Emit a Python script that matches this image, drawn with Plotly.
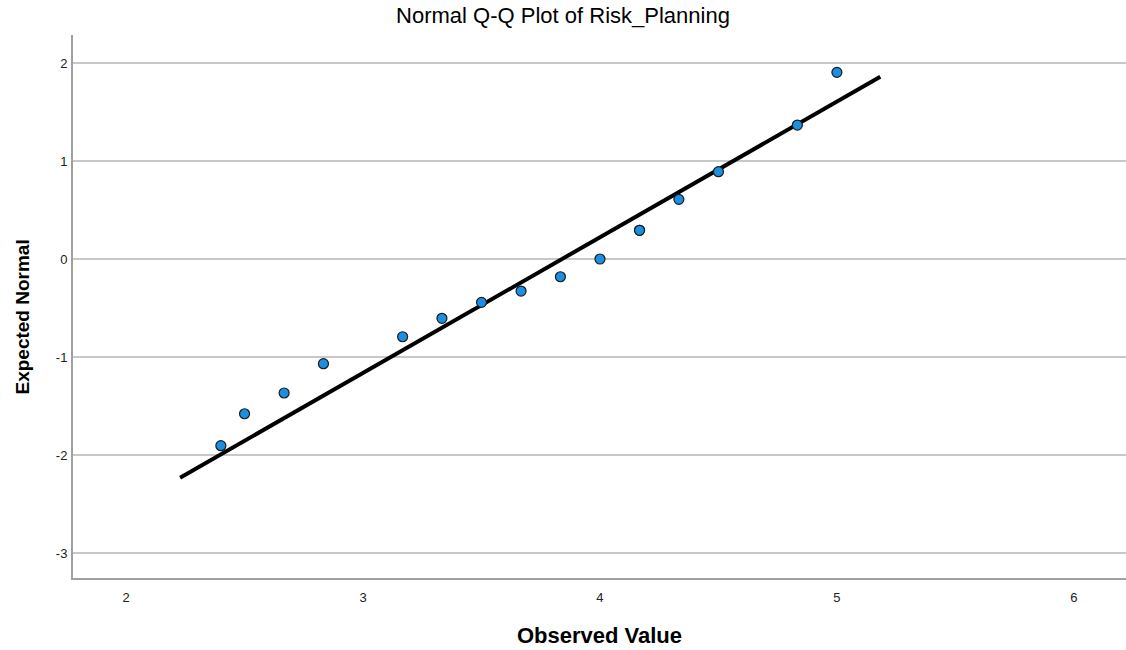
import plotly.graph_objects as go

# Observed values and expected normal scores
observed = [2.40, 2.50, 2.667, 2.833, 3.167, 3.333, 3.50, 3.667, 3.833, 4.00, 4.167, 4.167, 4.333, 4.50, 4.833, 5.00]
expected = [-1.905, -1.579, -1.367, -1.068, -0.793, -0.605, -0.442, -0.327, -0.181, 0.0, 0.293, 0.293, 0.609, 0.891, 1.367, 1.905]

# Reference line end points
line_x = [2.228, 5.183]
line_y = [-2.232, 1.860]

x_ticks = [2, 3, 4, 5, 6]
y_ticks = [-3, -2, -1, 0, 1, 2]

FONT = "Liberation Sans, Arial, sans-serif"

fig = go.Figure()
fig.add_trace(go.Scatter(
    x=line_x, y=line_y, mode="lines",
    line=dict(color="black", width=4),
    hoverinfo="skip", showlegend=False,
))
fig.add_trace(go.Scatter(
    x=observed, y=expected, mode="markers",
    marker=dict(size=10, color="#1a8fe3", line=dict(color="#1a1a1a", width=1.2)),
    showlegend=False,
))

fig.update_layout(
    width=1126, height=650,
    margin=dict(l=73, r=0, t=35, b=72),
    paper_bgcolor="white", plot_bgcolor="white",
    font=dict(family=FONT, color="#222222"),
    title=dict(text="Normal Q-Q Plot of Risk_Planning", x=0.5, xanchor="center",
               y=1 - 15 / 650, yanchor="middle",
               font=dict(family=FONT, size=22, color="black")),
    xaxis=dict(
        range=[1.776, 6.22], tickvals=x_ticks, ticktext=[str(v) for v in x_ticks],
        showgrid=False, zeroline=False,
        showline=True, linecolor="#a0a0a0", linewidth=2,
        ticks="", tickfont=dict(size=13, color="#222222"),
        ticklabelstandoff=6,
        title=dict(text="<b>Observed Value</b>", font=dict(size=22, color="black"), standoff=24),
    ),
    yaxis=dict(
        range=[-3.255, 2.286], tickvals=y_ticks, ticktext=[str(v) for v in y_ticks],
        showgrid=True, gridcolor="#c8c8c8", gridwidth=1.5, zeroline=False,
        showline=True, linecolor="#a0a0a0", linewidth=2,
        ticks="", tickfont=dict(size=13, color="#222222"),
        ticklabelstandoff=1,
    ),
    annotations=[dict(
        text="<b>Expected Normal</b>", xref="paper", yref="paper",
        x=-51 / 1053, y=(578 - 317.5) / 543, xanchor="center", yanchor="middle",
        textangle=-90, showarrow=False, font=dict(family=FONT, size=19, color="black"),
    )],
)

fig.write_html(
    "out.html",
    post_script="document.documentElement.style.overflow='hidden';document.body.style.margin='0';document.body.style.overflow='hidden';",
)
